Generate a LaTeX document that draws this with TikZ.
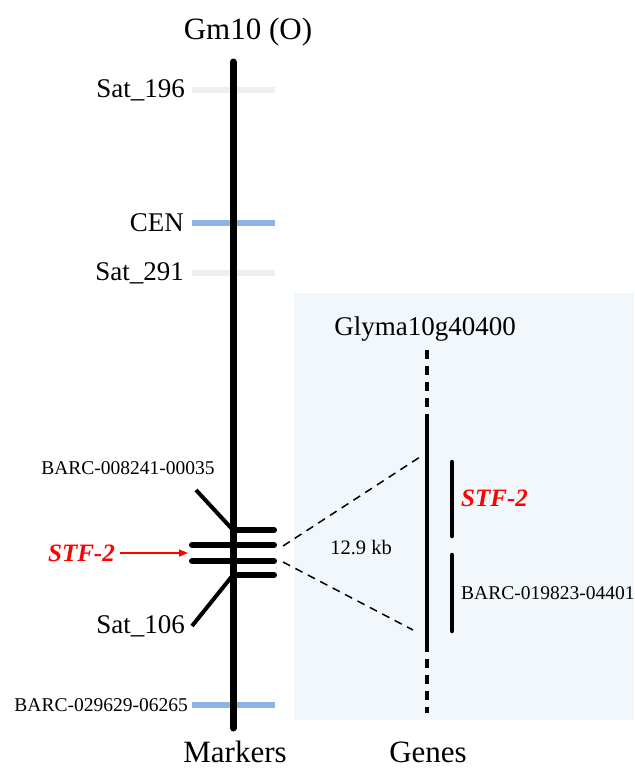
\documentclass[tikz,border=0pt]{standalone}
\usepackage{fontspec}
\setmainfont{Liberation Serif}
\usetikzlibrary{arrows.meta}
\definecolor{markgray}{HTML}{EFEFEF}
\definecolor{markblue}{HTML}{8EB4E3}
\definecolor{panelbg}{HTML}{F1F7FA}
\definecolor{stfred}{HTML}{FF0000}
\tikzset{
  lbl/.style={inner sep=0pt, font=\fontsize{27}{27}\selectfont},
  smalllbl/.style={inner sep=0pt, font=\fontsize{19.5}{19.5}\selectfont},
  title/.style={inner sep=0pt, font=\fontsize{31}{31}\selectfont},
  stflbl/.style={inner sep=0pt, text=stfred, font=\fontsize{25}{25}\selectfont\bfseries\itshape},
  markbar/.style={line width=6pt},
  chrom/.style={line width=7pt, line cap=round},
  locus/.style={line width=6pt, line cap=round},
  zoomline/.style={dashed, line width=1.5pt, dash pattern=on 8pt off 6pt},
  genedash/.style={line width=4.5pt, dash pattern=on 9pt off 7pt},
  genesolid/.style={line width=4.5pt},
  subgene/.style={line width=4.5pt, line cap=round}
}
\begin{document}
\begin{tikzpicture}[x=1pt,y=-1pt]
\useasboundingbox (0,0) rectangle (634,773);
% zoomed-in panel background
\fill[panelbg] (294,293) rectangle (634,720);

% chromosome ends
\coordinate (ctop) at (233,62);
\coordinate (cbot) at (233,728);

% marker ticks across the chromosome
\draw[markbar, markgray] (192,90) -- (275,90);
\draw[markbar, markblue] (192,223) -- (275,223);
\draw[markbar, markgray] (192,273) -- (275,273);
\draw[markbar, markblue] (192,705) -- (275,705);

% chromosome Gm10
\draw[chrom] (ctop) -- (cbot);

% STF-2 locus
\draw[locus] (233,530) -- (274,530);
\draw[locus] (192,545) -- (274,545);
\draw[locus] (192,561) -- (274,561);
\draw[locus] (233,575) -- (274,575);
\coordinate (bupper) at (196,490);
\coordinate (blower) at (192,626);
\draw[line width=4pt] (bupper) -- (233,530);
\draw[line width=4pt] (blower) -- (233,575);

% labels on the marker side
\node[title] (gm) at (248,32) {Gm10 (O)};
\node[lbl, anchor=east] (s196) at (185,90) {Sat\_196};
\node[lbl, anchor=east] (cen) at (184,223) {CEN};
\node[lbl, anchor=east] (s291) at (184,273) {Sat\_291};
\node[smalllbl] (b8241) at (128,468) {BARC-008241-00035};
\node[stflbl, anchor=east] (stfl) at (115,553) {STF-2};
\node[lbl, anchor=east] (s106) at (185,626) {Sat\_106};
\node[smalllbl, anchor=east] (b29629) at (188,705) {BARC-029629-06265};
\node[title] (mk) at (235,752) {Markers};

\coordinate (arrowtip) at (188,553);
\draw[stfred, line width=1.6pt, -{Triangle[length=9pt, width=7pt]}] (stfl.east) ++(5,0) -- (arrowtip);

% zoom lines to the gene view
\coordinate (zu0) at (283,546);
\coordinate (zl0) at (283,562);
\coordinate (zu1) at (420,457);
\coordinate (zl1) at (413,630);
\draw[zoomline] (zu0) -- (zu1);
\draw[zoomline] (zl0) -- (zl1);
\node[inner sep=0pt, font=\fontsize{20.5}{20.5}\selectfont] (kb) at (361,548) {12.9 kb};

% gene track
\coordinate (gtop) at (427,350);
\coordinate (gs1) at (427,418);
\coordinate (gs2) at (427,643);
\coordinate (gbot) at (427,713);
\draw[genedash] (gtop) -- (gs1);
\draw[genesolid] (gs1) -- (gs2);
\draw[genedash] (gs2) -- (gbot);
\draw[subgene] (452,462) -- (452,536);
\draw[subgene] (452,555) -- (452,631);

\node[lbl] (gly) at (425,329) {Glyma10g40400};
\node[stflbl, anchor=west] (stfr) at (461,498) {STF-2};
\node[smalllbl, anchor=west] (b19823) at (461,593) {BARC-019823-04401};
\node[title] (gn) at (428,752) {Genes};
\end{tikzpicture}
\end{document}
